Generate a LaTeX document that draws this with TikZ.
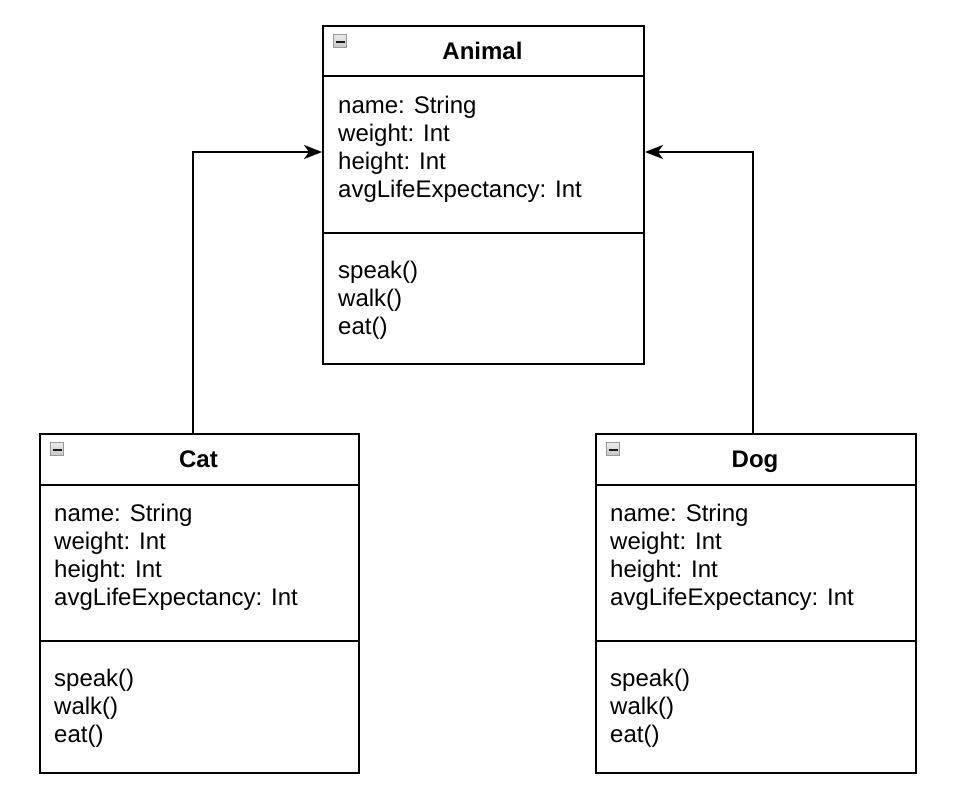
\documentclass[tikz,border=0pt]{standalone}
\usepackage{fontspec}
\setmainfont{Liberation Sans}
\usetikzlibrary{arrows.meta}

\begin{document}
\begin{tikzpicture}[x=1pt,y=-1pt,
    cls/.style={rectangle,draw,line width=2pt,minimum width=321pt,minimum height=338pt,
                inner sep=0pt,anchor=north west},
    title/.style={font=\fontsize{24}{28}\selectfont\bfseries,anchor=base,inner sep=0pt},
    members/.style={font=\fontsize{24}{28}\selectfont,align=left,anchor=base west,inner sep=0pt},
    fold/.style={rectangle,draw=gray!80,top color=gray!15,bottom color=gray!45,line width=1pt,
                 minimum size=13pt,inner sep=0pt,anchor=north west},
    inherit/.style={line width=2pt,-{Stealth[length=18pt,width=14pt,inset=5pt]}}
]
\useasboundingbox (0,0) rectangle (958,804);

% Animal
\node[cls] (animal) at (322,25) {};
\node[fold] (afold) at (333,34) {};
\draw[line width=2pt,gray!20!black] ([xshift=2.5pt,yshift=-1pt]afold.west) -- ([xshift=-2.5pt,yshift=-1pt]afold.east);
\node[title] (atitle) at (482.5,59) {Animal};
\draw[line width=2pt] (animal.west|-0,76) -- (animal.east|-0,76);
% base anchor = last line
\node[members] (aattr) at (338,197) {name: String\\weight: Int\\height: Int\\avgLifeExpectancy: Int};
\draw[line width=2pt] (animal.west|-0,233) -- (animal.east|-0,233);
\node[members] (aops) at (338,334) {speak()\\walk()\\eat()};

% Cat
\node[cls,minimum width=319pt,minimum height=339pt] (cat) at (39,433) {};
\node[fold] (cfold) at (50,442) {};
\draw[line width=2pt,gray!20!black] ([xshift=2.5pt,yshift=-1pt]cfold.west) -- ([xshift=-2.5pt,yshift=-1pt]cfold.east);
\node[title] (ctitle) at (198.5,467) {Cat};
\draw[line width=2pt] (cat.west|-0,485) -- (cat.east|-0,485);
\node[members] (cattr) at (54,605) {name: String\\weight: Int\\height: Int\\avgLifeExpectancy: Int};
\draw[line width=2pt] (cat.west|-0,641) -- (cat.east|-0,641);
\node[members] (cops) at (54,742) {speak()\\walk()\\eat()};

% Dog
\node[cls,minimum width=320pt,minimum height=339pt] (dog) at (595,433) {};
\node[fold] (dfold) at (606,442) {};
\draw[line width=2pt,gray!20!black] ([xshift=2.5pt,yshift=-1pt]dfold.west) -- ([xshift=-2.5pt,yshift=-1pt]dfold.east);
\node[title] (dtitle) at (755,467) {Dog};
\draw[line width=2pt] (dog.west|-0,485) -- (dog.east|-0,485);
\node[members] (dattr) at (610,605) {name: String\\weight: Int\\height: Int\\avgLifeExpectancy: Int};
\draw[line width=2pt] (dog.west|-0,641) -- (dog.east|-0,641);
\node[members] (dops) at (610,742) {speak()\\walk()\\eat()};

% inheritance
\draw[inherit] ([xshift=-6.5pt]cat.north) |- ([yshift=43pt]animal.west);
\draw[inherit] ([xshift=-3pt]dog.north) |- ([yshift=43pt]animal.east);
\end{tikzpicture}
\end{document}
